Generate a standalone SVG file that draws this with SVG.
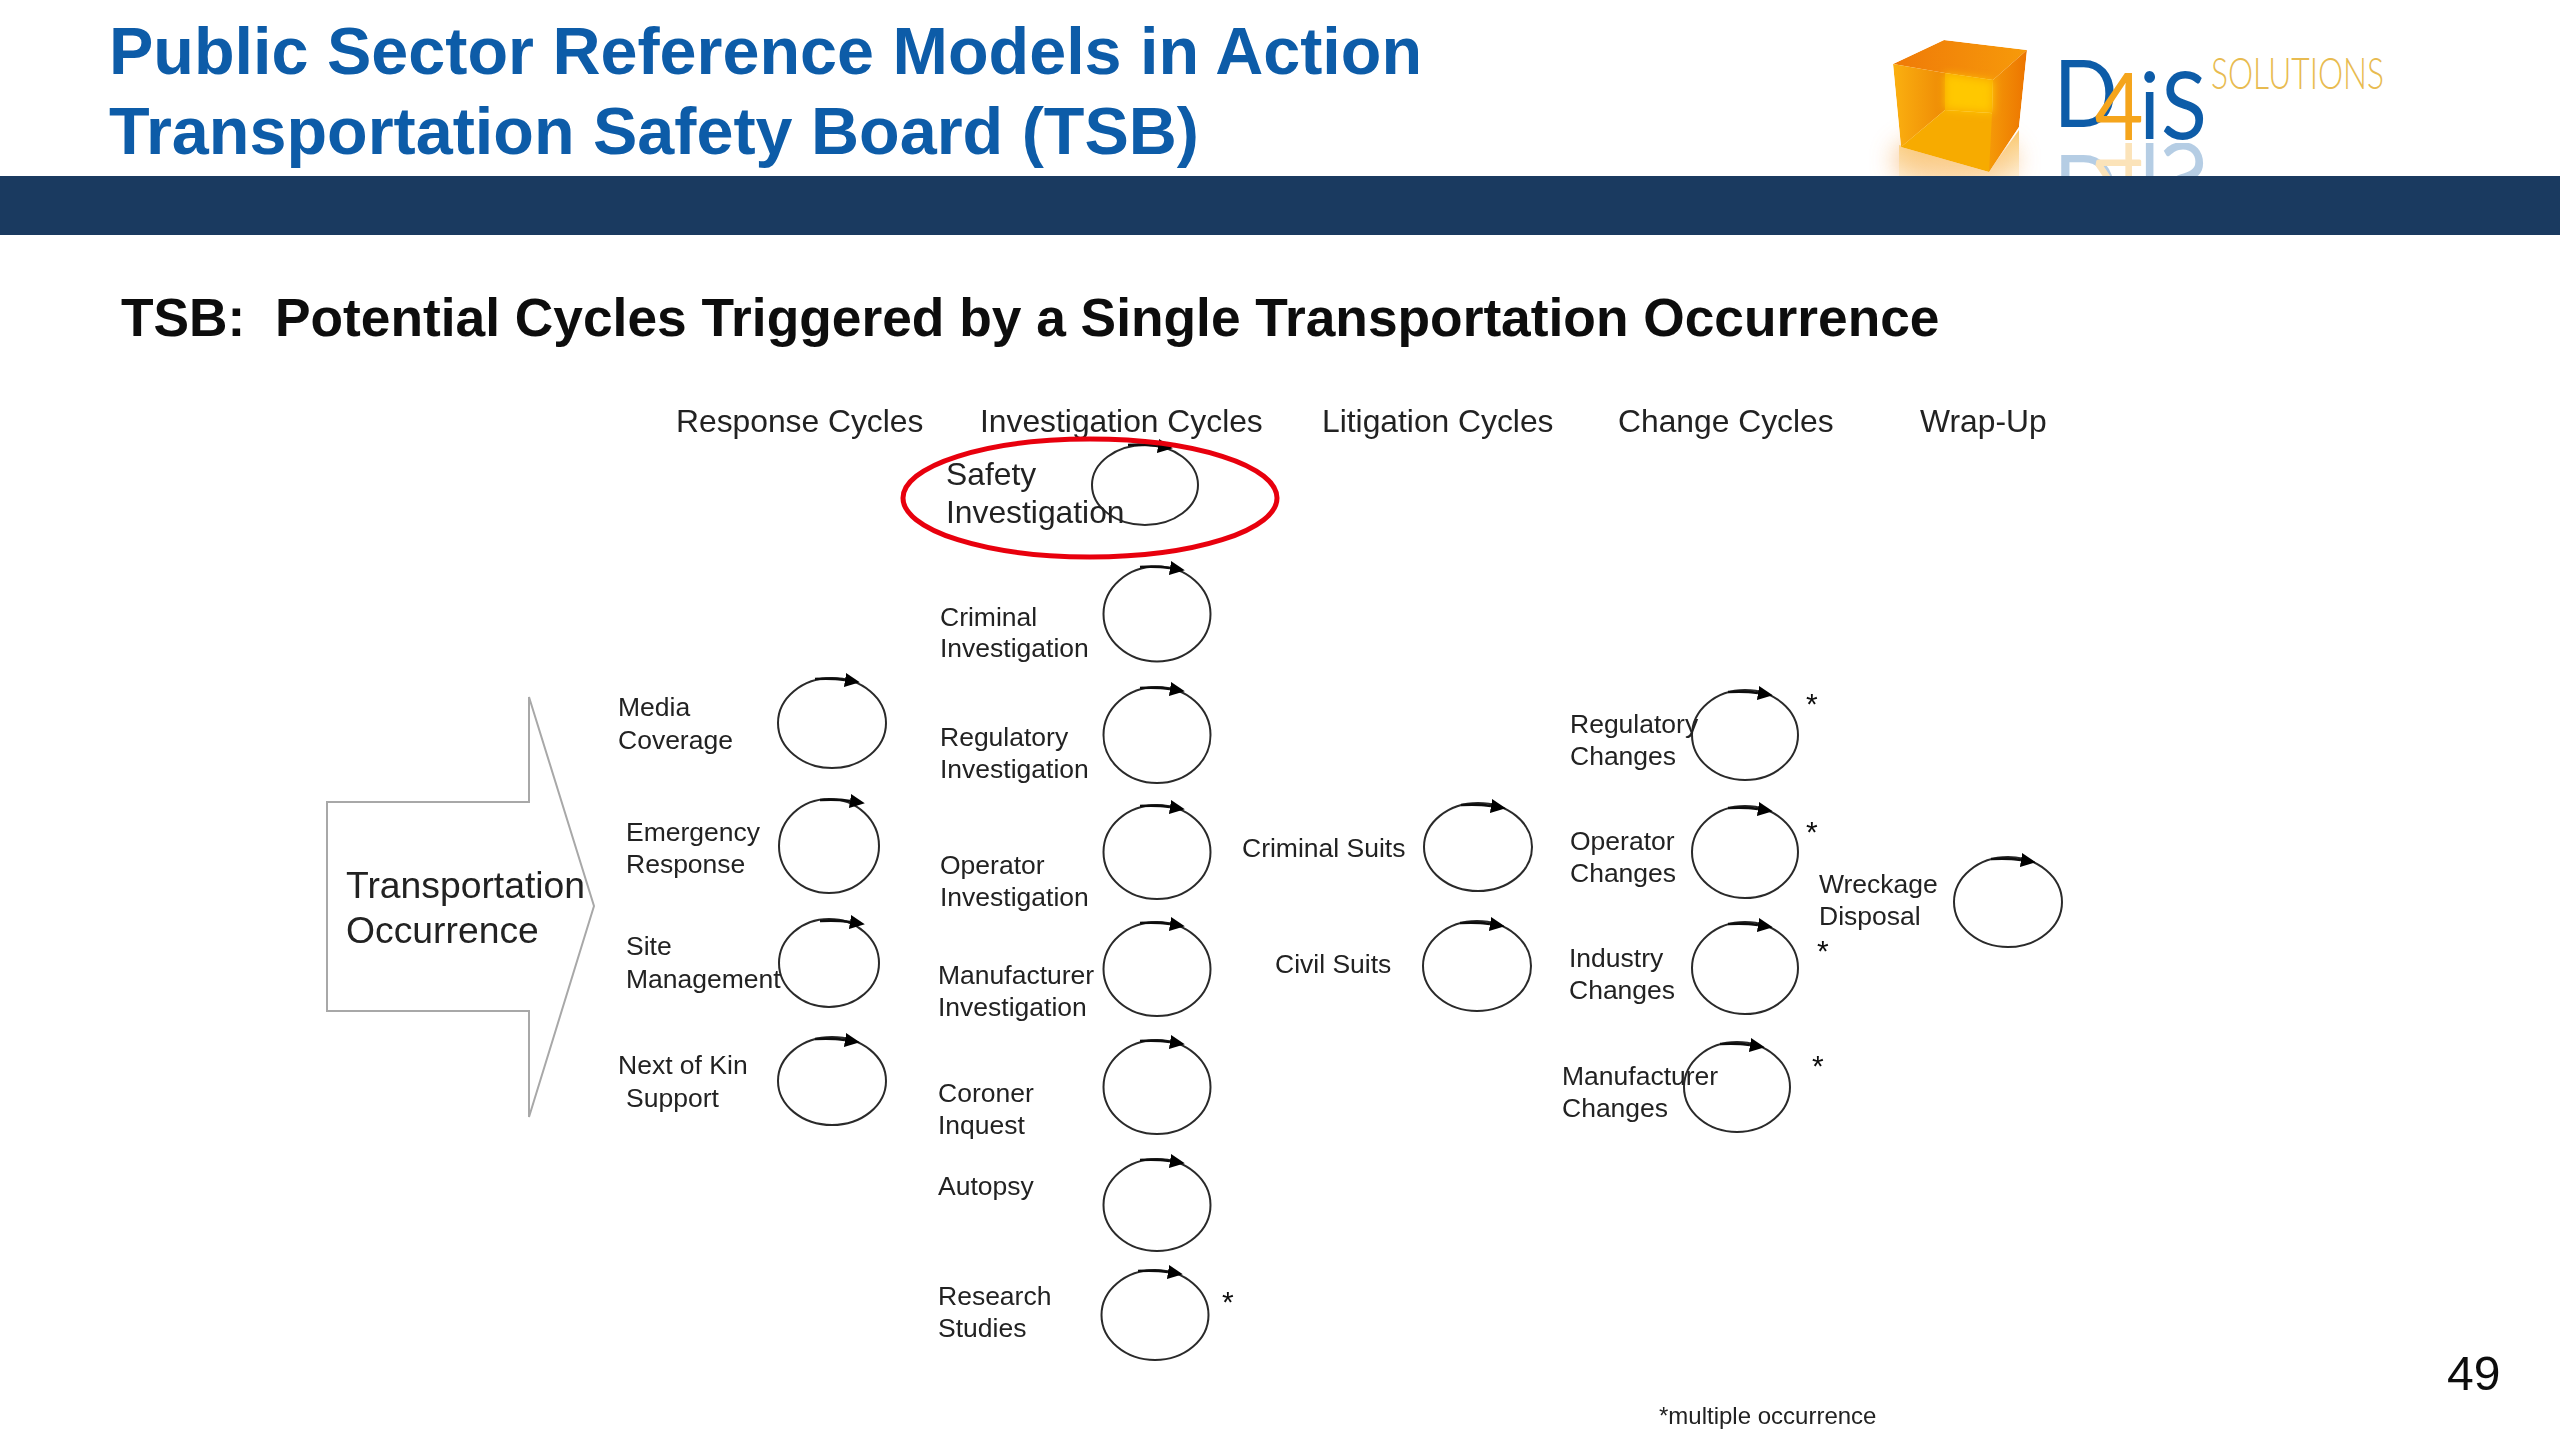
<svg xmlns="http://www.w3.org/2000/svg" xmlns:xlink="http://www.w3.org/1999/xlink" width="2560" height="1440" viewBox="0 0 2560 1440">
<style>
text{font-family:"Liberation Sans",Arial,sans-serif;fill:#222}
.t{font-size:66.500px;font-weight:700;fill:#0f5ca8}
.sub{font-size:53.300px;font-weight:700;fill:#0a0a0a;white-space:pre}
.h{font-size:31.800px}
.l{font-size:26.500px}
.c{fill:none;stroke:#2a2a2a;stroke-width:2}
.a{fill:none;stroke:#111;stroke-width:2.600;marker-end:url(#head)}
.s{font-size:30px;fill:#111}
</style>
<defs>
<marker id="head" viewBox="0 0 15 14" refX="0" refY="7" markerUnits="userSpaceOnUse" markerWidth="15" markerHeight="14" orient="auto"><path d="M0 0L15 7L0 14z" fill="#000"/></marker>
<linearGradient id="cubeL" x1="0" y1="0" x2="1" y2="0"><stop offset="0" stop-color="#fbb010"/><stop offset="1" stop-color="#ee8a05"/></linearGradient>
<linearGradient id="cubeR" x1="0" y1="0" x2="1" y2="0"><stop offset="0" stop-color="#f59a08"/><stop offset="1" stop-color="#ec7400"/></linearGradient>
<linearGradient id="cubeT" x1="0" y1="0" x2="1" y2="0"><stop offset="0" stop-color="#ef7a08"/><stop offset="1" stop-color="#f79a0a"/></linearGradient>
<linearGradient id="ref" x1="0" y1="0" x2="0" y2="1"><stop offset="0" stop-color="#f8b030"/><stop offset="1" stop-color="#fde0a8" stop-opacity=".5"/></linearGradient>
<filter id="soft" x="0" y="0" width="100%" height="100%" filterUnits="userSpaceOnUse" primitiveUnits="userSpaceOnUse"><feGaussianBlur stdDeviation=".7"/></filter>
<filter id="b1" x="-10%" y="-10%" width="120%" height="120%"><feGaussianBlur stdDeviation=".6"/></filter>
<filter id="b4" x="-30%" y="-30%" width="160%" height="160%"><feGaussianBlur stdDeviation="4"/></filter>
<filter id="b12" x="-60%" y="-60%" width="220%" height="220%"><feGaussianBlur stdDeviation="12"/></filter>
<clipPath id="top"><rect x="1800" y="0" width="760" height="176"/></clipPath>
<clipPath id="refl"><rect x="2040" y="143" width="200" height="33"/></clipPath>
<clipPath id="cube"><path d="M1893 64L1944 40L2027 50L2019 127L1989 172L1901 147z"/></clipPath>
</defs>
<rect width="2560" height="1440" fill="#fff"/>
<g id="logo">
<g clip-path="url(#top)">
<ellipse cx="1955" cy="160" rx="62" ry="28" fill="#f9c48a" filter="url(#b12)" opacity=".85"/>
<path d="M1899 145L1989 172L2019 130V176H1899z" fill="url(#ref)" opacity=".75"/>
</g>
<g clip-path="url(#cube)">
<path d="M1893 64L1944 40L2027 50L1993 80L1945 73z" fill="url(#cubeT)"/>
<path d="M1893 64L1945 73V110L1901 147z" fill="url(#cubeL)"/>
<path d="M1945 73L1993 80L1992 113L1945 110z" fill="#f8a800"/>
<path d="M1901 147L1945 110L2019 115L1989 172z" fill="#f7ab00"/>
<path d="M1993 80L2027 50L2019 127L1989 172L1992 113z" fill="url(#cubeR)"/>
<path d="M1945 74L1993 81L1992 113L1945 109z" fill="#ffc800" filter="url(#b4)"/>
</g>
<text id="logomark" filter="url(#b1)" transform="translate(2053 0) scale(.9 1)" font-size="94" style="font-family:'Lato','Liberation Sans',sans-serif;font-weight:400"><tspan x=".5" y="127" style="fill:#0f5ca8">D</tspan><tspan x="46" y="140" style="fill:#f5a51e">4</tspan><tspan x="96" y="139" style="fill:#0f5ca8">i</tspan><tspan x="120" y="139" style="fill:#0f5ca8">S</tspan></text>
<g clip-path="url(#refl)" opacity=".3"><use xlink:href="#logomark" href="#logomark" transform="matrix(1 0 0 -1 0 282)"/></g>
<text x="2211" y="89" font-size="43" textLength="173" lengthAdjust="spacingAndGlyphs" style="fill:#e8bb50;font-family:'Lato','Liberation Sans',sans-serif;font-weight:300">SOLUTIONS</text>
</g>
<rect id="band" x="0" y="176" width="2560" height="59" fill="#1a3a60"/>
<g id="diagram" filter="url(#soft)">
<g id="titles">
<text class="t" x="109" y="74">Public Sector Reference Models in Action</text>
<text class="t" x="109" y="154">Transportation Safety Board (TSB)</text>
<text class="sub" x="121" y="336" xml:space="preserve">TSB:  Potential Cycles Triggered by a Single Transportation Occurrence</text>
</g>
<g id="headers">
<text class="h" x="676" y="432">Response Cycles</text>
<text class="h" x="980" y="432">Investigation Cycles</text>
<text class="h" x="1322" y="432">Litigation Cycles</text>
<text class="h" x="1618" y="432">Change Cycles</text>
<text class="h" x="1920" y="432">Wrap-Up</text>
</g>
<g id="occurrence">
<path d="M327 802H529V697L594 906L529 1117V1011H327z" fill="#fff" stroke="#a8a8a8" stroke-width="2"/>
<text x="346" y="898" font-size="37.300">Transportation</text>
<text x="346" y="943" font-size="37.300">Occurrence</text>
</g>
<g id="safety">
<ellipse class="c" cx="1145" cy="485" rx="53" ry="40"/>
<path class="a" d="M1128 445Q1145 444 1158 446"/>
<text class="h" x="946" y="485">Safety</text>
<text class="h" x="946" y="523">Investigation</text>
<ellipse cx="1090" cy="498" rx="187" ry="59" fill="none" stroke="#e8000f" stroke-width="5"/>
</g>
<g id="criminal-inv"><ellipse class="c" cx="1157" cy="614" rx="53.500" ry="47.500"/><path class="a" d="M1140 567Q1157 566 1170 568"/><text class="l" x="940" y="626">Criminal</text><text class="l" x="940" y="657">Investigation</text></g>
<g id="regulatory-inv"><ellipse class="c" cx="1157" cy="735" rx="53.500" ry="48"/><path class="a" d="M1140 688Q1157 687 1170 689"/><text class="l" x="940" y="746">Regulatory</text><text class="l" x="940" y="778">Investigation</text></g>
<g id="operator-inv"><ellipse class="c" cx="1157" cy="852" rx="53.500" ry="47"/><path class="a" d="M1140 806Q1157 805 1170 807"/><text class="l" x="940" y="874">Operator</text><text class="l" x="940" y="906">Investigation</text></g>
<g id="manufacturer-inv"><ellipse class="c" cx="1157" cy="969" rx="53.500" ry="47"/><path class="a" d="M1140 923Q1157 922 1170 924"/><text class="l" x="938" y="984">Manufacturer</text><text class="l" x="938" y="1016">Investigation</text></g>
<g id="coroner"><ellipse class="c" cx="1157" cy="1087" rx="53.500" ry="47"/><path class="a" d="M1140 1041Q1157 1040 1170 1042"/><text class="l" x="938" y="1102">Coroner</text><text class="l" x="938" y="1134">Inquest</text></g>
<g id="autopsy"><ellipse class="c" cx="1157" cy="1205" rx="53.500" ry="46"/><path class="a" d="M1140 1160Q1157 1159 1170 1161"/><text class="l" x="938" y="1195">Autopsy</text></g>
<g id="research"><ellipse class="c" cx="1155" cy="1315" rx="53.500" ry="45"/><path class="a" d="M1138 1271Q1155 1270 1168 1272"/><text class="l" x="938" y="1305">Research</text><text class="l" x="938" y="1337">Studies</text><text class="s" x="1222" y="1312">*</text></g>
<g id="media"><ellipse class="c" cx="832" cy="723" rx="54" ry="45"/><path class="a" d="M815 679Q832 678 845 680"/><text class="l" x="618" y="716">Media</text><text class="l" x="618" y="749">Coverage</text></g>
<g id="emergency"><ellipse class="c" cx="829" cy="846" rx="50" ry="47"/><path class="a" d="M820 800Q837 799 850 801"/><text class="l" x="626" y="841">Emergency</text><text class="l" x="626" y="873">Response</text></g>
<g id="site"><ellipse class="c" cx="829" cy="963" rx="50" ry="44"/><path class="a" d="M820 921Q837 920 850 922"/><text class="l" x="626" y="955">Site</text><text class="l" x="626" y="988">Management</text></g>
<g id="kin"><ellipse class="c" cx="832" cy="1081" rx="54" ry="44"/><path class="a" d="M815 1039Q832 1038 845 1040"/><text class="l" x="618" y="1074">Next of Kin</text><text class="l" x="626" y="1107">Support</text></g>
<g id="criminal-suits"><ellipse class="c" cx="1478" cy="847" rx="54" ry="44"/><path class="a" d="M1461 805Q1478 804 1491 806"/><text class="l" x="1242" y="857">Criminal Suits</text></g>
<g id="civil-suits"><ellipse class="c" cx="1477" cy="966" rx="54" ry="45"/><path class="a" d="M1460 923Q1477 922 1490 924"/><text class="l" x="1275" y="973">Civil Suits</text></g>
<g id="regulatory-ch"><ellipse class="c" cx="1745" cy="735" rx="53" ry="45"/><path class="a" d="M1728 692Q1745 691 1758 693"/><text class="l" x="1570" y="733">Regulatory</text><text class="l" x="1570" y="765">Changes</text><text class="s" x="1806" y="714">*</text></g>
<g id="operator-ch"><ellipse class="c" cx="1745" cy="852" rx="53" ry="46"/><path class="a" d="M1728 808Q1745 807 1758 809"/><text class="l" x="1570" y="850">Operator</text><text class="l" x="1570" y="882">Changes</text><text class="s" x="1806" y="842">*</text></g>
<g id="industry-ch"><ellipse class="c" cx="1745" cy="968" rx="53" ry="46"/><path class="a" d="M1728 924Q1745 923 1758 925"/><text class="l" x="1569" y="967">Industry</text><text class="l" x="1569" y="999">Changes</text><text class="s" x="1817" y="961">*</text></g>
<g id="manufacturer-ch"><ellipse class="c" cx="1737" cy="1087" rx="53" ry="45"/><path class="a" d="M1720 1044Q1737 1043 1750 1045"/><text class="l" x="1562" y="1085">Manufacturer</text><text class="l" x="1562" y="1117">Changes</text><text class="s" x="1812" y="1076">*</text></g>
<g id="wreckage"><ellipse class="c" cx="2008" cy="902" rx="54" ry="45"/><path class="a" d="M1991 859Q2008 858 2021 860"/><text class="l" x="1819" y="893">Wreckage</text><text class="l" x="1819" y="925">Disposal</text></g>
<text x="1659" y="1424" font-size="24">*multiple occurrence</text>
<text x="2447" y="1390" font-size="48" style="fill:#111">49</text>
</g>
</svg>
